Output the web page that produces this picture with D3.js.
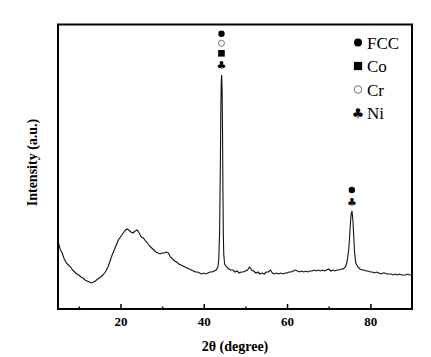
<!DOCTYPE html>
<html><head><meta charset="utf-8">
<script src="https://cdn.jsdelivr.net/npm/d3@7"></script>
<style>body{margin:0;background:#fff}svg{display:block}
.serif{font-family:"Liberation Serif","Times New Roman",Times,"DejaVu Serif",serif}</style>
</head><body><div id="chart"></div>
<script>
const twoTheta = [5.0,5.5,6.0,6.5,7.0,7.5,8.0,8.5,9.0,9.5,10.0,10.5,11.0,11.5,12.0,12.5,13.0,13.5,14.0,14.5,15.0,15.5,16.0,16.5,17.0,17.5,18.0,18.5,19.0,19.5,20.0,20.5,21.0,21.5,22.0,22.5,23.0,23.5,24.0,24.5,25.0,25.5,26.0,26.5,27.0,27.5,28.0,28.5,29.0,29.5,30.0,30.5,31.0,31.5,32.0,32.5,33.0,33.5,34.0,34.5,35.0,35.5,36.0,36.5,37.0,37.5,38.0,38.5,39.0,39.5,40.0,40.5,41.0,41.5,42.0,42.5,43.0,43.4,43.6,43.8,44.0,44.1,44.2,44.3,44.4,44.5,44.6,44.7,44.8,45.0,45.5,46.0,46.5,47.0,47.5,48.0,48.5,49.0,49.5,50.0,50.5,51.0,51.5,52.0,52.5,53.0,53.5,54.0,54.5,55.0,55.5,56.0,56.5,57.0,57.5,58.0,58.5,59.0,59.5,60.0,60.5,61.0,61.5,62.0,62.5,63.0,63.5,64.0,64.5,65.0,65.5,66.0,66.5,67.0,67.5,68.0,68.5,69.0,69.5,70.0,70.5,71.0,71.5,72.0,72.5,73.0,73.5,74.0,74.4,74.8,75.0,75.2,75.4,75.6,75.8,76.0,76.2,76.5,77.0,77.5,78.0,78.5,79.0,79.5,80.0,80.5,81.0,81.5,82.0,82.5,83.0,83.5,84.0,84.5,85.0,85.5,86.0,86.5,87.0,87.5,88.0,88.5,89.0,89.5,90.0];
const intensity = [68,60,56,50,46,44,42,39,37,35,34,32,31,29,28,27,26,27,28,30,31,33,35,38,42,48,54,59,64,69,72,75,78,80,79,77,76,78,79,76,72,71,68,66,63,61,59,57,56,55,56,56,57,56,52,50,48,47,45,44,43,42,41,40,39,38,37,37,36,35,36,35,36,37,37,38,39,42,50,75,150,200,228,234,220,180,120,75,55,45,42,40,39,39,37,38,36,37,37,38,39,42,39,38,36,37,35,36,35,37,37,39,36,35,36,35,36,35,36,36,37,37,38,39,38,37,38,37,38,37,38,38,39,38,39,38,39,38,39,40,38,39,38,39,39,40,40,42,47,59,71,85,95,98,89,74,57,46,42,40,39,39,38,38,37,37,36,37,36,35,36,36,35,35,35,34,35,34,35,34,34,34,35,34,34];
const xTicks = [20,40,60,80];
const xMinorTicks = [10,30,50,70];
const legendLabels = ["FCC","Co","Cr","Ni"];
const legendSymbols = ["dot","square","ring","club"];
const peakPositions = [44.25, 75.55];
const peakMarks = [["dot","ring","square","club"],["dot","club"]];

const W = 431, H = 357;
const m = {left:58, right:19, top:24.5, bottom:48};
const svg = d3.select("#chart").append("svg").attr("width",W).attr("height",H);
const x = d3.scaleLinear().domain([5,90]).range([m.left, W-m.right]);
const y = d3.scaleLinear().domain([0,284.5]).range([H-m.bottom, m.top]);

svg.append("clipPath").attr("id","clip").append("rect")
  .attr("x",m.left).attr("y",m.top).attr("width",W-m.left-m.right).attr("height",H-m.top-m.bottom);

const data = twoTheta.map((t,i)=>({t, v: intensity[i]}));
svg.append("path").datum(data).attr("clip-path","url(#clip)")
  .attr("fill","none").attr("stroke","#111").attr("stroke-width",1.1)
  .attr("d", d3.line().x(d=>x(d.t)).y(d=>y(d.v)));

svg.append("rect").attr("x",m.left).attr("y",m.top).attr("width",W-m.left-m.right).attr("height",H-m.top-m.bottom)
  .attr("fill","none").attr("stroke","#000").attr("stroke-width",2);

const xAxis = svg.append("g").attr("transform",`translate(0,${H-m.bottom})`)
  .call(d3.axisBottom(x).tickValues(xTicks).tickSizeInner(-5).tickSizeOuter(0).tickPadding(8));
xAxis.attr("font-family",null).attr("font-size",null);
xAxis.select(".domain").remove();
xAxis.selectAll("line").attr("stroke","#000").attr("stroke-width",1.5);
xAxis.selectAll("text").attr("class","serif").attr("font-weight","bold").attr("font-size",13).attr("fill","#000").attr("dy","0.7em");
const xMinor = svg.append("g").attr("transform",`translate(0,${H-m.bottom})`)
  .call(d3.axisBottom(x).tickValues(xMinorTicks).tickSizeInner(-2.5).tickSizeOuter(0).tickFormat(""));
xMinor.select(".domain").remove();
xMinor.selectAll("line").attr("stroke","#000").attr("stroke-width",1.5);

svg.append("text").attr("class","serif").attr("x",(m.left+W-m.right)/2).attr("y",351)
  .attr("text-anchor","middle").attr("font-weight","bold").attr("font-size",14)
  .text("2θ (degree)");
svg.append("text").attr("class","serif").attr("transform",`translate(37,${162.5}) rotate(-90)`)
  .attr("text-anchor","middle").attr("font-weight","bold").attr("font-size",14)
  .text("Intensity (a.u.)");

function drawSym(g, type, cx, cy, s) {
  if (type==="dot") g.append("circle").attr("cx",cx).attr("cy",cy).attr("r",3.2*s).attr("fill","#000");
  else if (type==="ring") g.append("circle").attr("cx",cx).attr("cy",cy).attr("r",3*s).attr("fill","none").attr("stroke","#666").attr("stroke-width",0.9);
  else if (type==="square") g.append("rect").attr("x",cx-3.3*s).attr("y",cy-3.3*s).attr("width",6.6*s).attr("height",6.6*s).attr("fill","#000");
  else if (type==="club") g.append("text").attr("x",cx).attr("y",cy).attr("text-anchor","middle").attr("dominant-baseline","central")
    .attr("font-family","DejaVu Sans, sans-serif").attr("font-size",11*s).attr("fill","#000").text("♣");
}

const pm = svg.append("g");
const peakY = [[33.7,43.3,53.3,65.7],[190,202.3]];
peakPositions.forEach((p,i)=>{
  peakMarks[i].forEach((t,j)=>drawSym(pm,t,x(p),peakY[i][j],1));
});

const lg = svg.append("g");
legendLabels.forEach((l,i)=>{
  const cy = 42.5 + i*23.5;
  drawSym(lg, legendSymbols[i], 358, cy, 1.25);
  lg.append("text").attr("class","serif").attr("x",367).attr("y",cy+6).attr("font-size",17).attr("fill","#000").text(l);
});
</script></body></html>
